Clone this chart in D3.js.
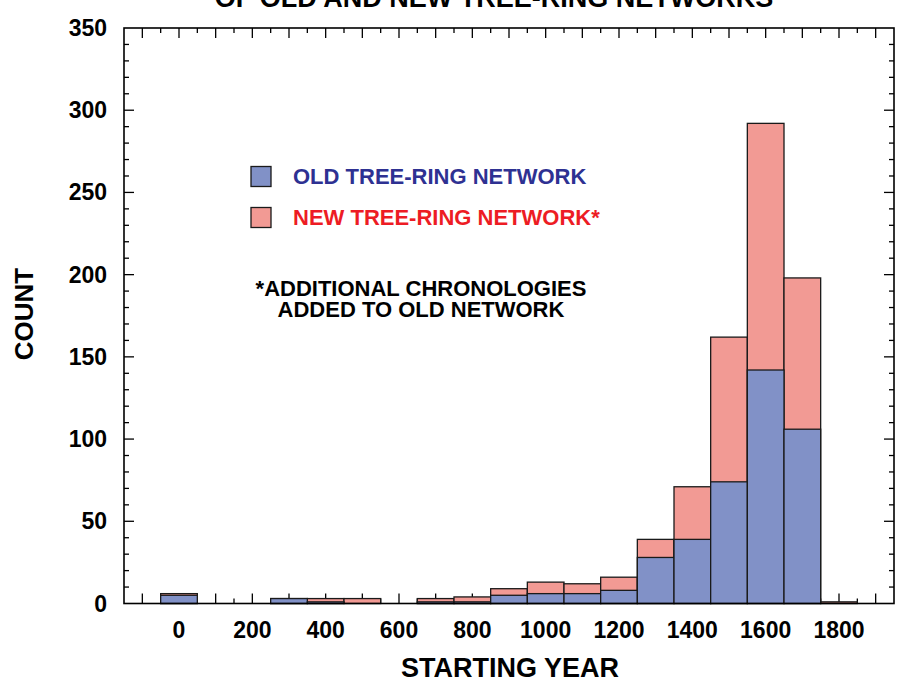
<!DOCTYPE html>
<html>
<head>
<meta charset="utf-8">
<script src="https://cdn.jsdelivr.net/npm/d3@7"></script>
<style>
  body { margin: 0; background: #fff; }
  svg { display: block; font-family: "Liberation Sans", Arial, Helvetica, sans-serif; font-weight: bold; }
</style>
</head>
<body>
<div class="chart"></div>
<script>
// starting-year bins (centre of each 100-yr bin)
var years = [0, 300, 400, 500, 700, 800, 900, 1000, 1100, 1200, 1300, 1400, 1500, 1600, 1700, 1800];
// chronologies in the old network
var oldNetwork = [5, 3, 1, 0, 1, 1, 5, 6, 6, 8, 28, 39, 74, 142, 106, 0];
// chronologies in the new network (old + added)
var newNetwork = [6, 3, 3, 3, 3, 4, 9, 13, 12, 16, 39, 71, 162, 292, 198, 1];
var xTickLabels = [0, 200, 400, 600, 800, 1000, 1200, 1400, 1600, 1800];
var yTickLabels = [0, 50, 100, 150, 200, 250, 300, 350];

var width = 900, height = 688;
var plotLeft = 124, plotRight = 894, plotTop = 28, plotBottom = 603.5;

var blueFill = "#8191c7", redFill = "#f29a94";
var blueText = "#2e3192", redText = "#ed1c24";

var svg = d3.select(".chart").append("svg")
  .attr("width", width).attr("height", height);

var x = d3.scaleLinear().domain([-150, 1950]).range([plotLeft, plotRight]);
var y = d3.scaleLinear().domain([0, 350]).range([plotBottom, plotTop]);

// title (first line runs off the top of the page)
svg.append("text")
  .attr("x", 494).attr("y", 7)
  .attr("text-anchor", "middle")
  .style("font-size", "27px")
  .text("OF OLD AND NEW TREE-RING NETWORKS");

// inward ticks on all four sides
var ticks = svg.append("g").attr("stroke", "#000").attr("stroke-width", 1.3);
d3.range(-100, 1901, 50).forEach(function (v) {
  var len = v % 100 === 0 ? 10 : 5;
  ticks.append("line").attr("x1", x(v)).attr("x2", x(v)).attr("y1", plotBottom).attr("y2", plotBottom - len);
  ticks.append("line").attr("x1", x(v)).attr("x2", x(v)).attr("y1", plotTop).attr("y2", plotTop + len);
});
d3.range(10, 350, 10).forEach(function (v) {
  var len = v % 50 === 0 ? 10 : 5;
  ticks.append("line").attr("y1", y(v)).attr("y2", y(v)).attr("x1", plotLeft).attr("x2", plotLeft + len);
  ticks.append("line").attr("y1", y(v)).attr("y2", y(v)).attr("x1", plotRight).attr("x2", plotRight - len);
});

// bars: new network behind, old network in front
var bars = svg.append("g");
bars.selectAll("rect.new")
  .data(years)
  .enter().append("rect")
  .attr("class", "new")
  .attr("x", function (d) { return x(d - 50); })
  .attr("width", function (d) { return x(d + 50) - x(d - 50); })
  .attr("y", function (d, i) { return y(newNetwork[i]); })
  .attr("height", function (d, i) { return y(0) - y(newNetwork[i]); })
  .attr("fill", redFill)
  .attr("stroke", "#1a1a1a")
  .attr("stroke-width", 1.3);

bars.selectAll("rect.old")
  .data(years.filter(function (d, i) { return oldNetwork[i] > 0; }))
  .enter().append("rect")
  .attr("class", "old")
  .attr("x", function (d) { return x(d - 50); })
  .attr("width", function (d) { return x(d + 50) - x(d - 50); })
  .attr("y", function (d) { return y(oldNetwork[years.indexOf(d)]); })
  .attr("height", function (d) { return y(0) - y(oldNetwork[years.indexOf(d)]); })
  .attr("fill", blueFill)
  .attr("stroke", "#1a1a1a")
  .attr("stroke-width", 1.3);

// frame
svg.append("rect")
  .attr("x", plotLeft).attr("y", plotTop)
  .attr("width", plotRight - plotLeft).attr("height", plotBottom - plotTop)
  .attr("fill", "none").attr("stroke", "#000").attr("stroke-width", 1.6);

// tick labels
svg.append("g").selectAll("text")
  .data(xTickLabels)
  .enter().append("text")
  .attr("x", function (d) { return x(d); })
  .attr("y", 638)
  .attr("text-anchor", "middle")
  .style("font-size", "23px")
  .text(function (d) { return d; });

svg.append("g").selectAll("text")
  .data(yTickLabels)
  .enter().append("text")
  .attr("x", 107)
  .attr("y", function (d) { return y(d) + 8; })
  .attr("text-anchor", "end")
  .style("font-size", "23px")
  .text(function (d) { return d; });

// axis titles
svg.append("text")
  .attr("x", 510).attr("y", 677)
  .attr("text-anchor", "middle")
  .style("font-size", "27px")
  .text("STARTING YEAR");

svg.append("text")
  .attr("transform", "translate(33,314) rotate(-90)")
  .attr("text-anchor", "middle")
  .style("font-size", "26px")
  .text("COUNT");

// legend
var legend = [
  { label: "OLD TREE-RING NETWORK", fill: blueFill, color: blueText, y: 166.5 },
  { label: "NEW TREE-RING NETWORK*", fill: redFill, color: redText, y: 207.5 }
];
legend.forEach(function (l) {
  svg.append("rect")
    .attr("x", 251).attr("y", l.y).attr("width", 20).attr("height", 20)
    .attr("fill", l.fill).attr("stroke", "#1a1a1a").attr("stroke-width", 1.3);
  svg.append("text")
    .attr("x", 293).attr("y", l.y + 17)
    .style("font-size", "22px")
    .attr("fill", l.color)
    .text(l.label);
});

svg.append("text")
  .attr("x", 421).attr("y", 296)
  .attr("text-anchor", "middle")
  .style("font-size", "22px")
  .text("*ADDITIONAL CHRONOLOGIES");
svg.append("text")
  .attr("x", 421).attr("y", 317)
  .attr("text-anchor", "middle")
  .style("font-size", "22px")
  .text("ADDED TO OLD NETWORK");
</script>
</body>
</html>
